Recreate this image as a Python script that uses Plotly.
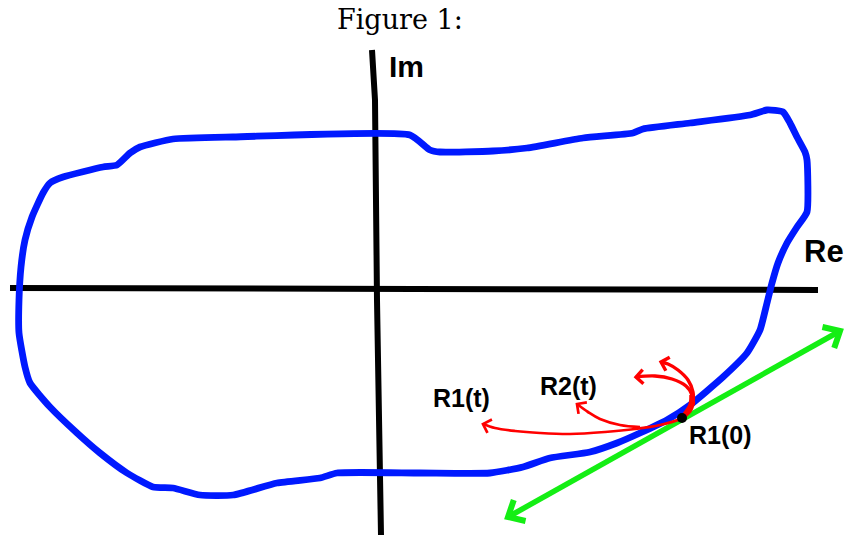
import numpy as np
import plotly.graph_objects as go

W, H = 845, 539

# ---- drawing data (positions, pixel units) ----
contour_x = [410, 430, 440, 493, 527, 583, 633, 643, 690, 750, 767, 783, 790, 797, 805, 807,
             807, 797, 787, 778, 772, 767, 760, 747, 723, 690, 667, 640, 617, 590, 550, 523,
             490, 420, 337, 320, 277, 233, 200, 173, 153, 127, 100, 77, 50, 30, 25, 19, 19,
             21, 25, 32, 43, 50, 63, 103, 117, 130, 140, 173, 233, 410]
contour_y = [135, 150, 152, 151, 148, 138, 133, 129, 123, 115, 110, 112, 123, 137, 152, 160,
             212, 227, 243, 263, 283, 303, 330, 353, 377, 405, 420, 433, 443, 452, 458, 467,
             473, 473, 473, 478, 483, 495, 495, 488, 487, 473, 453, 433, 407, 383, 367, 333, 300,
             267, 240, 217, 193, 183, 177, 167, 165, 153, 147, 139, 137, 135]

re_axis_x = [10, 413, 414, 818]
re_axis_y = [288, 288, 289, 290]
im_axis_x = [372, 375, 377, 381]
im_axis_y = [50, 100, 300, 535]

tangent_x = [508, 840]
tangent_y = [517, 331]

r1_x = [694, 690, 680, 660, 635, 605, 570, 540, 515, 495, 483]
r1_y = [402, 412, 419, 425, 429, 432, 434, 433, 431, 428, 424]
r2_x = [640, 620, 600, 588, 577]
r2_y = [427, 425, 419, 412, 404]
r3_x = [684, 691, 692, 686, 672, 655, 636]
r3_y = [416, 405, 395, 386, 379, 376, 377]
r4_x = [693, 693, 688, 678, 668, 661]
r4_y = [405, 392, 380, 370, 364, 362]
r_widths = [2.7, 2.7, 3.4, 3.4]

point_x = [682]
point_y = [418]

label_text = ["Im", "Re", "R1(t)", "R2(t)", "R1(0)"]
label_x = [406, 824, 461, 568, 720]
label_y = [66, 251, 398, 386, 435]
label_size = [30, 31, 25, 25, 25]

title_text = "Figure 1:"

BLUE = "#0019ff"
RED = "#ff0000"
GREEN = "#14ee14"


def chevron(xs, ys, length, ang_deg, tail=-2):
    x1, y1 = xs[-1], ys[-1]
    x0, y0 = xs[tail], ys[tail]
    d = np.array([x0 - x1, y0 - y1], float)
    d /= np.linalg.norm(d)
    out_x, out_y = [], []
    for s in (1, -1):
        a = np.radians(ang_deg) * s
        r = np.array([d[0] * np.cos(a) - d[1] * np.sin(a), d[0] * np.sin(a) + d[1] * np.cos(a)])
        out_x.append(x1 + length * r[0])
        out_y.append(y1 + length * r[1])
    return [out_x[0], x1, out_x[1]], [out_y[0], y1, out_y[1]]


fig = go.Figure()

# axes
fig.add_trace(go.Scatter(x=re_axis_x, y=re_axis_y, mode="lines",
                         line=dict(color="black", width=6)))
fig.add_trace(go.Scatter(x=im_axis_x, y=im_axis_y, mode="lines",
                         line=dict(color="black", width=6)))

# contour
fig.add_trace(go.Scatter(x=contour_x, y=contour_y, mode="lines",
                         line=dict(color=BLUE, width=6.8, shape="spline", smoothing=0.5)))

# tangent line with arrow heads both ends
fig.add_trace(go.Scatter(x=tangent_x, y=tangent_y, mode="lines",
                         line=dict(color=GREEN, width=5.5)))
for xs, ys in ((tangent_x, tangent_y), (tangent_x[::-1], tangent_y[::-1])):
    cx, cy = chevron(xs, ys, 18, 42)
    fig.add_trace(go.Scatter(x=cx, y=cy, mode="lines",
                             line=dict(color=GREEN, width=6)))

# red curves
for (xs, ys), w in zip(((r1_x, r1_y), (r2_x, r2_y), (r3_x, r3_y), (r4_x, r4_y)), r_widths):
    fig.add_trace(go.Scatter(x=xs, y=ys, mode="lines",
                             line=dict(color=RED, width=w, shape="spline", smoothing=1)))
    cx, cy = chevron(xs, ys, 10, 45)
    fig.add_trace(go.Scatter(x=cx, y=cy, mode="lines",
                             line=dict(color=RED, width=w)))
# thickened junction near the point
fig.add_trace(go.Scatter(x=r3_x[:3], y=r3_y[:3], mode="lines",
                         line=dict(color=RED, width=5.5, shape="spline")))

# point
fig.add_trace(go.Scatter(x=point_x, y=point_y, mode="markers",
                         marker=dict(color="black", size=10)))

for t, x, y, s in zip(label_text, label_x, label_y, label_size):
    fig.add_annotation(x=x, y=y, text=t, showarrow=False, xanchor="center", yanchor="middle",
                       font=dict(family="Liberation Sans", size=s, color="black", weight="bold"))

fig.add_annotation(x=400, y=19, text=title_text, showarrow=False, xanchor="center",
                   yanchor="middle", font=dict(family="DejaVu Serif", size=27, color="black"))

fig.update_layout(
    width=W, height=H, margin=dict(l=0, r=0, t=0, b=0),
    paper_bgcolor="white", plot_bgcolor="white", showlegend=False,
    xaxis=dict(range=[0, W], visible=False, fixedrange=True),
    yaxis=dict(range=[H, 0], visible=False, fixedrange=True),
    hovermode=False,
)
fig.update_traces(hoverinfo="skip")

fig.write_html("out.html", config={"displayModeBar": False},
               post_script="document.body.style.margin='0';document.body.style.overflow='hidden';")
